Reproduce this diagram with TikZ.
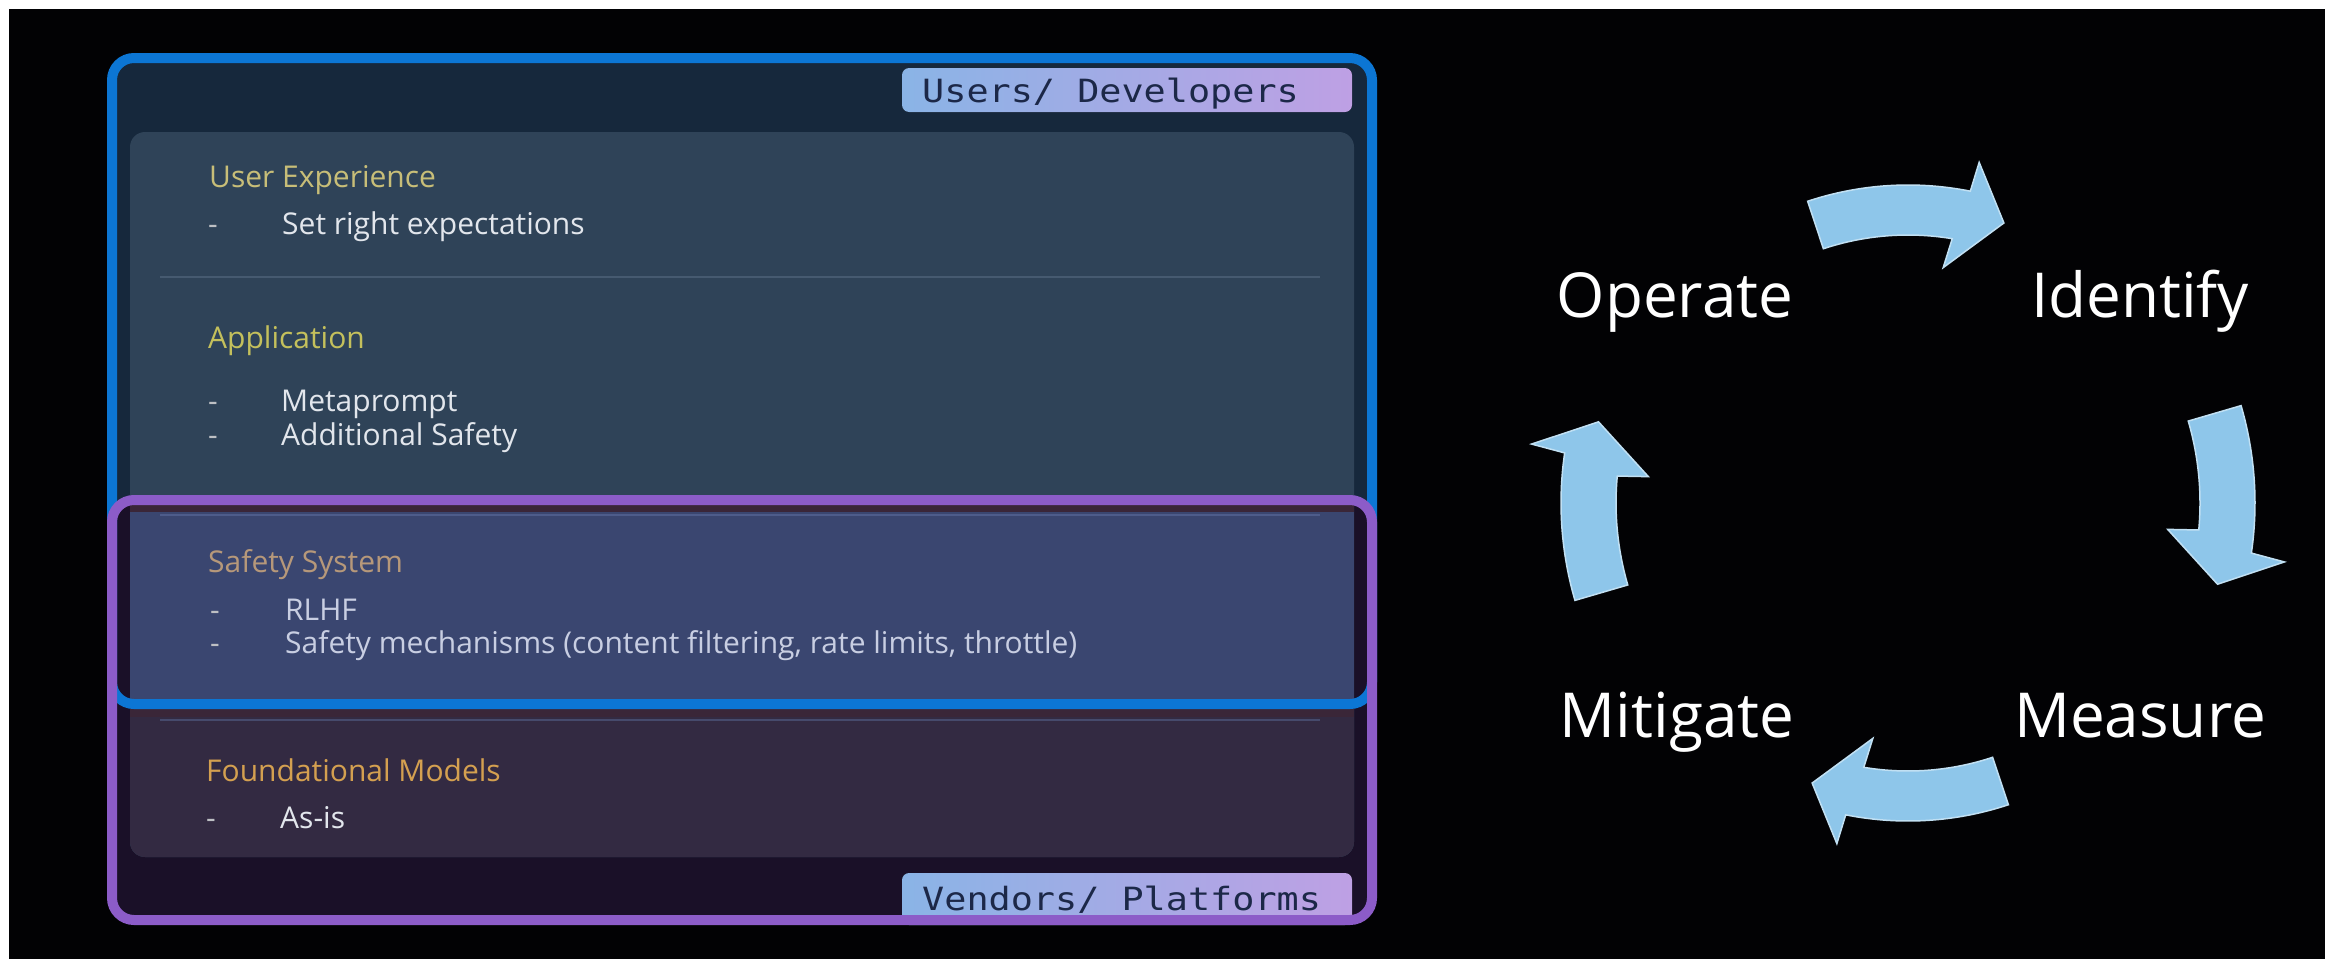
\documentclass[tikz,border=0pt]{standalone}
\usepackage{fontspec}
\setmainfont{Open Sans}
\newfontfamily\pillfont[FakeStretch=1.15]{DejaVu Sans Mono}
\definecolor{bgblack}{RGB}{2,2,4}
\definecolor{blueline}{RGB}{12,118,212}
\definecolor{purpleline}{RGB}{140,92,200}
\definecolor{bluefill}{RGB}{22,40,60}
\definecolor{purplefill}{RGB}{26,16,40}
\definecolor{panelA}{RGB}{47,67,88}
\definecolor{panelB}{RGB}{58,70,112}
\definecolor{panelC}{RGB}{51,42,66}
\definecolor{stripC}{RGB}{58,38,56}
\definecolor{sepA}{RGB}{70,90,112}
\definecolor{sepB}{RGB}{78,92,138}
\definecolor{sepC}{RGB}{70,74,108}
\definecolor{headUX}{RGB}{200,190,120}
\definecolor{headApp}{RGB}{196,192,92}
\definecolor{headSafe}{RGB}{182,152,122}
\definecolor{headFound}{RGB}{212,160,80}
\definecolor{itemtext}{RGB}{226,230,236}
\definecolor{itemsafe}{RGB}{200,206,226}
\definecolor{dashgray}{RGB}{190,192,196}
\definecolor{pillL}{RGB}{138,180,230}
\definecolor{pillR}{RGB}{190,160,228}
\definecolor{pilltext}{RGB}{28,40,72}
\definecolor{arrowblue}{RGB}{142,198,234}
\begin{document}
\begin{tikzpicture}[x=1pt,y=-1pt,
  heading/.style={anchor=base west, inner sep=0pt, font=\fontsize{30}{34}\selectfont},
  item/.style={anchor=base west, inner sep=0pt, font=\fontsize{30}{34}\selectfont, text=itemtext},
  dashmark/.style={anchor=base west, inner sep=0pt, font=\fontsize{30}{34}\selectfont, text=dashgray},
  pilltxt/.style={anchor=base west, inner sep=0pt, font=\pillfont\fontsize{32}{36}\selectfont, text=pilltext},
  pill/.style={rounded corners=7pt, left color=pillL, right color=pillR},
  frameline/.style={line width=10pt, rounded corners=22pt},
  cyclelabel/.style={anchor=base, inner sep=0pt, text=white, font=\fontsize{62}{70}\selectfont},
  cyclearrow/.style={fill=arrowblue, draw=arrowblue!55!white, line width=1.5pt, line join=miter},
  sepline/.style={line width=2pt}
]
\useasboundingbox (0,0) rectangle (2325,959);
\fill[white] (0,0) rectangle (2325,959);
\fill[bgblack] (9,9) rectangle (2325,959);

% frame fills
\fill[bluefill, rounded corners=22pt] (112,58) rectangle (1372,704);
\fill[purplefill, rounded corners=22pt] (112,500) rectangle (1372,920);

% inner panel
\fill[panelA, rounded corners=15pt] (130,132) rectangle (1354,857);
\fill[panelB] (130,505) rectangle (1354,704);
\begin{scope}
  \clip (130,704) rectangle (1354,860);
  \fill[panelC, rounded corners=15pt] (130,680) rectangle (1354,857);
\end{scope}
\fill[stripC] (130,709) rectangle (1354,717);
\fill[stripC] (130,505) rectangle (1354,512);
\draw[sepA, sepline] (160,277) -- (1320,277);
\draw[sepB, sepline] (160,515) -- (1320,515);
\draw[sepC, sepline] (160,720) -- (1320,720);

% pills
\fill[pill] (902,68) rectangle (1352,112);
\fill[pill] (902,873) rectangle (1352,925);

% frame lines
\draw[blueline, frameline] (112,58) rectangle (1372,704);
\draw[purpleline, frameline] (112,500) rectangle (1372,920);

% pill texts
\node[pilltxt] (users) at (922,102) {Users/ Developers};
\node[pilltxt] (vendors) at (922,910) {Vendors/ Platforms};

% panel texts
\node[heading, text=headUX] (ux) at (209,187) {User Experience};
\node[dashmark] (uxd) at (208,234) {-};
\node[item] (ux1) at (282,234) {Set right expectations};
\node[heading, text=headApp] (app) at (208,348) {Application};
\node[dashmark] (appd1) at (208,411) {-};
\node[item] (app1) at (281,411) {Metaprompt};
\node[dashmark] (appd2) at (208,445) {-};
\node[item] (app2) at (281,445) {Additional Safety};
\node[heading, text=headSafe] (safe) at (208,572) {Safety System};
\node[dashmark] (sd1) at (210,620) {-};
\node[item, text=itemsafe] (s1) at (285,620) {RLHF};
\node[dashmark] (sd2) at (210,653) {-};
\node[item, text=itemsafe] (s2) at (285,653) {Safety mechanisms (content filtering, rate limits, throttle)};
\node[heading, text=headFound] (found) at (206,781) {Foundational Models};
\node[dashmark] (fd1) at (206,828) {-};
\node[item] (f1) at (280,828) {As-is};

% cycle labels
\node[cyclelabel] (operate) at (1675,317) {Operate};
\node[cyclelabel] (identify) at (2140,317) {Identify};
\node[cyclelabel] (mitigate) at (1677,737) {Mitigate};
\node[cyclelabel] (measure) at (2140,737) {Measure};

% cycle arrows
\begin{scope}[shift={(1908,503)}, yscale=-1]
  \draw[cyclearrow] (108.4:318) arc[start angle=108.4, end angle=78.7, radius=318]
     -- (78.2:348) -- (71.1:296) -- (81.5:238) -- (80.5:268)
     arc[start angle=80.5, end angle=108.4, radius=268] -- cycle;
  \draw[cyclearrow] (-71.6:318) arc[start angle=-71.6, end angle=-101.3, radius=318]
     -- (-101.8:348) -- (-108.9:296) -- (-98.5:238) -- (-99.5:268)
     arc[start angle=-99.5, end angle=-71.6, radius=268] -- cycle;
  \draw[cyclearrow] (16.3:347) arc[start angle=16.3, end angle=-8.3, radius=347]
     -- (-8.9:381) -- (-14.7:320) -- (-5.8:261) -- (-5.3:292)
     arc[start angle=-5.3, end angle=16.3, radius=292] -- cycle;
  \draw[cyclearrow] (196.3:347) arc[start angle=196.3, end angle=171.7, radius=347]
     -- (171.1:381) -- (165.3:320) -- (174.2:261) -- (174.7:292)
     arc[start angle=174.7, end angle=196.3, radius=292] -- cycle;
\end{scope}
\end{tikzpicture}
\end{document}
